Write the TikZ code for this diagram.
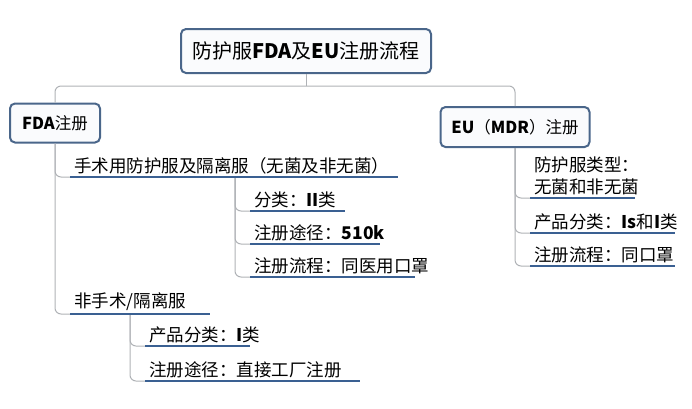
\documentclass[tikz,border=0pt]{standalone}
\usepackage{fontspec}
\setmainfont{Noto Sans CJK SC}
\usetikzlibrary{positioning}
\definecolor{boxline}{RGB}{74,102,138}
\definecolor{boxfill}{RGB}{250,251,253}
\definecolor{uline}{RGB}{58,96,146}
\definecolor{conn}{RGB}{175,178,182}
\begin{document}
\begin{tikzpicture} [x=1pt, y=-1pt, %
  topic/.style={draw=boxline, line width=2pt, fill=boxfill, rounded corners=5pt, %
    inner xsep=7pt, inner ysep=6pt, font=\fontsize{16.5}{19}\selectfont}, %
  item/.style={anchor=south west, inner xsep=4pt, inner ysep=3pt, %
    font=\fontsize{17.5}{22}\selectfont}, %
  uline/.style={draw=uline, line width=2.4pt}, %
  link/.style={draw=conn, line width=1pt, rounded corners=6pt}] %
\useasboundingbox (0,0) rectangle (692,408); %
 %
\node [topic, minimum width=250pt, minimum height=44pt, font=\fontsize{20}{23}\selectfont] %
  (root) at (306,51) {防护服\textbf{FDA}及\textbf{EU}注册流程}; %
\node [topic, minimum width=90pt, minimum height=39pt] (fda) at (55,123) {\textbf{FDA}注册}; %
\node [topic, minimum width=149pt, minimum height=40pt] (eu) at (515,127) {\textbf{EU}（\textbf{MDR}）注册}; %
\coordinate (fork) at (306,86); %
\coordinate (surgstem) at (235,0); %
\coordinate (nonstem) at (130,0); %
 %
% FDA branch
\node [item] (surg) at (70,177) {手术用防护服及隔离服（无菌及非无菌）}; %
\node [item] (cls) at (250,211) {分类：\textbf{II}类}; %
\node [item] (route) at (250,244) {注册途径：\textbf{510k}}; %
\node [item] (proc) at (250,277) {注册流程：同医用口罩}; %
\node [item] (nonsurg) at (70,314) {非手术/隔离服}; %
\node [item] (ncls) at (145,346) {产品分类：\textbf{I}类}; %
\node [item] (nroute) at (145,381) {注册途径：直接工厂注册}; %
 %
% EU branch
\node [item, align=left] (type) at (530,198) {防护服类型：\\无菌和非无菌}; %
\node [item] (ecls) at (530,233) {产品分类：\textbf{Is}和\textbf{I}类}; %
\node [item] (eproc) at (530,266) {注册流程：同口罩}; %
 %
\draw [link, rounded corners=0pt] (root.south) -- (fork); %
\draw [link] (fork) -| (fda.north); %
\draw [link] (fork) -| (eu.north); %
\draw [link] (fda.south) |- (surg.south west); %
\draw [link] (fda.south) |- (nonsurg.south west); %
\foreach \n in {cls,route,proc} \draw [link] (surg.south west -| surgstem) |- (\n.south west); %
\foreach \n in {ncls,nroute} \draw [link] (nonsurg.south west -| nonstem) |- (\n.south west); %
\foreach \n in {type,ecls,eproc} \draw [link] (eu.south) |- (\n.south west); %
\foreach \n/\w in {surg/328,cls/95,route/130,proc/165,nonsurg/140,ncls/105,nroute/215,type/105,ecls/145,eproc/145} %
  \draw [uline] (\n.south west) -- ++(\w,0); %
\end{tikzpicture}
\end{document}
